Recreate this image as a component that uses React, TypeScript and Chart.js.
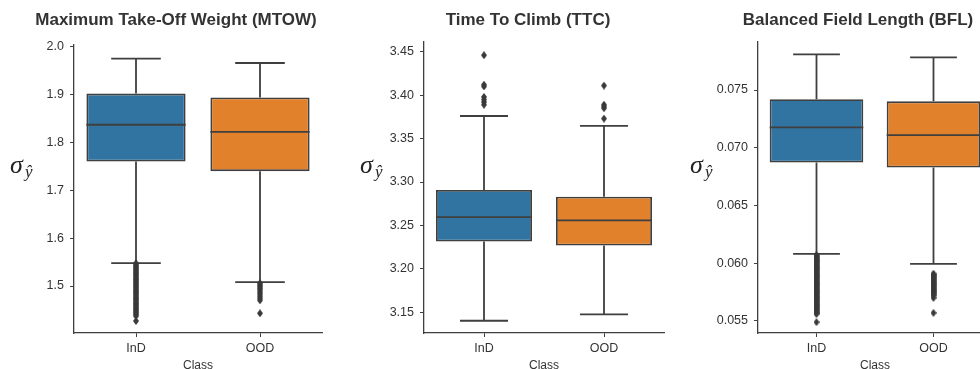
import React, { useEffect, useRef } from 'react';
import { Chart, registerables } from 'chart.js';

Chart.register(...registerables);

// ---------- data ----------
const CLASSES = ['InD', 'OOD'];
const X_TITLE = 'Class';
const Y_LABEL_MAIN = 'σ';
const Y_LABEL_SUB = 'ŷ';
const BOX_COLORS = ['#3274a1', '#e1812c'];

// Maximum Take-Off Weight
const MTOW_TITLE = 'Maximum Take-Off Weight (MTOW)';
const MTOW_TICKS = [1.5, 1.6, 1.7, 1.8, 1.9, 2.0];
const MTOW_WHISKER_LOW = [1.548, 1.508];
const MTOW_Q1 = [1.760, 1.740];
const MTOW_MEDIAN = [1.837, 1.822];
const MTOW_Q3 = [1.902, 1.894];
const MTOW_WHISKER_HIGH = [1.975, 1.966];
const MTOW_OUTLIERS_IND = [
  1.5475, 1.545, 1.5425, 1.54, 1.5375, 1.535, 1.5325, 1.53, 1.5275, 1.525, 1.5225, 1.52,
  1.5175, 1.515, 1.5125, 1.51, 1.5075, 1.505, 1.5025, 1.5, 1.4975, 1.495, 1.4925, 1.49,
  1.4875, 1.485, 1.4825, 1.48, 1.4775, 1.475, 1.4725, 1.47, 1.4675, 1.465, 1.4625, 1.46,
  1.4575, 1.455, 1.4525, 1.45, 1.4475, 1.445, 1.4425, 1.44, 1.437, 1.427,
];
const MTOW_OUTLIERS_OOD = [1.506, 1.503, 1.5, 1.497, 1.494, 1.49, 1.486, 1.482, 1.478, 1.474, 1.47, 1.443];

// Time To Climb
const TTC_TITLE = 'Time To Climb (TTC)';
const TTC_TICKS = [3.15, 3.2, 3.25, 3.3, 3.35, 3.4, 3.45];
const TTC_WHISKER_LOW = [3.1403, 3.1477];
const TTC_Q1 = [3.2316, 3.2269];
const TTC_MEDIAN = [3.2597, 3.2558];
const TTC_Q3 = [3.2908, 3.283];
const TTC_WHISKER_HIGH = [3.376, 3.3647];
const TTC_OUTLIERS_IND = [3.446, 3.412, 3.410, 3.398, 3.395, 3.392, 3.389];
const TTC_OUTLIERS_OOD = [3.411, 3.389, 3.387, 3.385, 3.373];

// Balanced Field Length
const BFL_TITLE = 'Balanced Field Length (BFL)';
const BFL_TICKS = [0.055, 0.06, 0.065, 0.07, 0.075];
const BFL_WHISKER_LOW = [0.06081, 0.05994];
const BFL_Q1 = [0.06873, 0.06829];
const BFL_MEDIAN = [0.07176, 0.0711];
const BFL_Q3 = [0.0742, 0.07402];
const BFL_WHISKER_HIGH = [0.07809, 0.07783];
const BFL_OUTLIERS_IND = [
  0.0607, 0.0606, 0.0605, 0.0604, 0.0603, 0.0602, 0.0601, 0.06, 0.0599, 0.0598, 0.0597,
  0.0596, 0.0595, 0.0594, 0.0593, 0.0592, 0.0591, 0.059, 0.0589, 0.0588, 0.0587, 0.0586,
  0.0585, 0.0584, 0.0583, 0.0582, 0.0581, 0.058, 0.0579, 0.0578, 0.0577, 0.0576, 0.0575,
  0.0574, 0.0573, 0.0572, 0.0571, 0.057, 0.0569, 0.0568, 0.0567, 0.0566, 0.0565, 0.0564,
  0.0563, 0.0562, 0.0561, 0.056, 0.0559, 0.0558, 0.0557, 0.0556, 0.0549,
];
const BFL_OUTLIERS_OOD = [
  0.0591, 0.059, 0.0589, 0.0588, 0.0587, 0.0586, 0.0585, 0.0584, 0.0583, 0.0582, 0.0581,
  0.058, 0.0579, 0.0578, 0.0577, 0.0576, 0.0575, 0.0574, 0.0573, 0.0572, 0.057, 0.0557,
];

// ---------- styling / layout ----------
const LINE_COLOR = '#3f3f3f';
const TEXT_COLOR = '#333333';
const LINE_W = 1.8;
const CANVAS_H = 369;
const TICK_FONT = { family: "'Liberation Sans', Arial, sans-serif", size: 12.5 };

const PANELS = [
  {
    key: 'mtow', title: MTOW_TITLE, ticks: MTOW_TICKS, decimals: 1,
    lo: MTOW_WHISKER_LOW, q1: MTOW_Q1, med: MTOW_MEDIAN, q3: MTOW_Q3, hi: MTOW_WHISKER_HIGH,
    outInD: MTOW_OUTLIERS_IND, outOOD: MTOW_OUTLIERS_OOD,
    layout: { left: 0, width: 330, axisW: 74, padRight: 8, top: 45, yMin: 1.4018, yMax: 2.0036, titleX: 176, ylabelDx: 64 },
  },
  {
    key: 'ttc', title: TTC_TITLE, ticks: TTC_TICKS, decimals: 2,
    lo: TTC_WHISKER_LOW, q1: TTC_Q1, med: TTC_MEDIAN, q3: TTC_Q3, hi: TTC_WHISKER_HIGH,
    outInD: TTC_OUTLIERS_IND, outOOD: TTC_OUTLIERS_OOD,
    layout: { left: 330, width: 340, axisW: 94, padRight: 6, top: 42, yMin: 3.1262, yMax: 3.4612, titleX: 198, ylabelDx: 64 },
  },
  {
    key: 'bfl', title: BFL_TITLE, ticks: BFL_TICKS, decimals: 3,
    lo: BFL_WHISKER_LOW, q1: BFL_Q1, med: BFL_MEDIAN, q3: BFL_Q3, hi: BFL_WHISKER_HIGH,
    outInD: BFL_OUTLIERS_IND, outOOD: BFL_OUTLIERS_OOD,
    layout: { left: 660, width: 340, axisW: 98, padRight: 8, top: 42, yMin: 0.05396, yMax: 0.07916, titleX: 198, ylabelDx: 68 },
  },
];

function makeDiamond(): HTMLCanvasElement {
  const c = document.createElement('canvas');
  c.width = 6;
  c.height = 8;
  const g = c.getContext('2d')!;
  g.fillStyle = '#3a3a3a';
  g.beginPath();
  g.moveTo(3, 0);
  g.lineTo(6, 4);
  g.lineTo(3, 8);
  g.lineTo(0, 4);
  g.closePath();
  g.fill();
  return c;
}

const boxPlugin = {
  id: 'boxExtras',
  beforeDatasetsDraw(chart: any, _a: any, opts: any) {
    const { ctx } = chart;
    const x = chart.scales.x;
    const y = chart.scales.y;
    const meta = chart.getDatasetMeta(0);
    ctx.save();
    ctx.strokeStyle = LINE_COLOR;
    ctx.lineWidth = LINE_W;
    opts.q1.forEach((_: number, i: number) => {
      const cx = x.getPixelForValue(i);
      const w = meta.data[i].width;
      const half = w / 4;
      const yLo = y.getPixelForValue(opts.lo[i]);
      const yQ1 = y.getPixelForValue(opts.q1[i]);
      const yQ3 = y.getPixelForValue(opts.q3[i]);
      const yHi = y.getPixelForValue(opts.hi[i]);
      ctx.beginPath();
      ctx.moveTo(cx, yQ1);
      ctx.lineTo(cx, yLo);
      ctx.moveTo(cx - half, yLo);
      ctx.lineTo(cx + half, yLo);
      ctx.moveTo(cx, yQ3);
      ctx.lineTo(cx, yHi);
      ctx.moveTo(cx - half, yHi);
      ctx.lineTo(cx + half, yHi);
      ctx.stroke();
    });
    ctx.restore();
  },
  afterDatasetsDraw(chart: any, _a: any, opts: any) {
    const { ctx } = chart;
    const x = chart.scales.x;
    const y = chart.scales.y;
    const meta = chart.getDatasetMeta(0);
    ctx.save();
    ctx.strokeStyle = LINE_COLOR;
    ctx.lineWidth = LINE_W;
    opts.med.forEach((m: number, i: number) => {
      const cx = x.getPixelForValue(i);
      const w = meta.data[i].width;
      const ym = y.getPixelForValue(m);
      ctx.beginPath();
      ctx.moveTo(cx - w / 2, ym);
      ctx.lineTo(cx + w / 2, ym);
      ctx.stroke();
    });
    ctx.restore();
  },
  afterDraw(chart: any, _a: any, opts: any) {
    const { ctx, chartArea } = chart;
    ctx.save();
    ctx.fillStyle = TEXT_COLOR;
    ctx.font = "bold 17px 'Liberation Sans', Arial, sans-serif";
    ctx.textAlign = 'center';
    ctx.textBaseline = 'middle';
    ctx.fillText(opts.title, opts.titleX, 20);

    ctx.font = "12px 'Liberation Sans', Arial, sans-serif";
    ctx.fillText(X_TITLE, (chartArea.left + chartArea.right) / 2, 366);

    ctx.fillStyle = '#222222';
    ctx.textAlign = 'left';
    ctx.textBaseline = 'alphabetic';
    const lx = chartArea.left - opts.ylabelDx;
    ctx.font = "italic 26px 'Liberation Serif', serif";
    ctx.fillText(Y_LABEL_MAIN, lx, 173);
    ctx.font = "italic 17px 'Liberation Serif', serif";
    ctx.fillText(Y_LABEL_SUB, lx + 15, 177);
    ctx.restore();
  },
};

function Panel({ p }: { p: any }) {
  const ref = useRef<HTMLCanvasElement | null>(null);
  useEffect(() => {
    const canvas = ref.current!;
    const diamond = makeDiamond();
    const L = p.layout;
    const chart = new Chart(canvas, {
      type: 'bar',
      data: {
        labels: CLASSES,
        datasets: [
          {
            type: 'bar',
            data: CLASSES.map((_, i) => [p.q1[i], p.q3[i]]),
            backgroundColor: BOX_COLORS,
            borderColor: LINE_COLOR,
            borderWidth: LINE_W,
            borderSkipped: false,
            barPercentage: 0.8,
            categoryPercentage: 1,
            order: 2,
          } as any,
          {
            type: 'scatter',
            data: [
              ...p.outInD.map((v: number) => ({ x: CLASSES[0], y: v })),
              ...p.outOOD.map((v: number) => ({ x: CLASSES[1], y: v })),
            ],
            pointStyle: diamond,
            pointRadius: 4,
            order: 1,
          } as any,
        ],
      },
      options: {
        responsive: false,
        animation: false,
        events: [],
        layout: { padding: { top: L.top, right: L.padRight, left: 0, bottom: 0 } },
        plugins: {
          legend: { display: false },
          tooltip: { enabled: false },
          title: { display: false },
          boxExtras: {
            lo: p.lo, q1: p.q1, med: p.med, q3: p.q3, hi: p.hi,
            title: p.title, titleX: L.titleX, ylabelDx: L.ylabelDx,
          },
        } as any,
        scales: {
          x: {
            type: 'category',
            offset: true,
            grid: { display: true, drawOnChartArea: false, drawTicks: true, tickLength: 4, color: LINE_COLOR, offset: false },
            border: { display: true, color: LINE_COLOR, width: 1.3 },
            ticks: { color: TEXT_COLOR, padding: 4, font: TICK_FONT },
            afterFit: (s: any) => { s.height = CANVAS_H - 333; },
          },
          y: {
            type: 'linear',
            min: L.yMin,
            max: L.yMax,
            grid: { display: true, drawOnChartArea: false, drawTicks: true, tickLength: 4, color: LINE_COLOR },
            border: { display: true, color: LINE_COLOR, width: 1.3 },
            ticks: {
              color: TEXT_COLOR,
              padding: 6,
              font: TICK_FONT,
              callback: (v: any) => Number(v).toFixed(p.decimals),
            },
            afterBuildTicks: (s: any) => { s.ticks = p.ticks.map((v: number) => ({ value: v })); },
            afterFit: (s: any) => { s.width = L.axisW; },
          },
        },
      } as any,
      plugins: [boxPlugin],
    });
    return () => chart.destroy();
  }, [p]);
  const L = p.layout;
  return (
    <div style={{ position: 'absolute', left: L.left, top: 0, width: L.width, height: CANVAS_H }}>
      <canvas ref={ref} width={L.width} height={CANVAS_H} style={{ display: 'block' }} />
    </div>
  );
}

export default function App() {
  return (
    <div style={{ position: 'fixed', left: 0, top: 0, width: 980, height: CANVAS_H, overflow: 'hidden', background: '#ffffff' }}>
      {PANELS.map((p) => (
        <Panel key={p.key} p={p} />
      ))}
    </div>
  );
}
